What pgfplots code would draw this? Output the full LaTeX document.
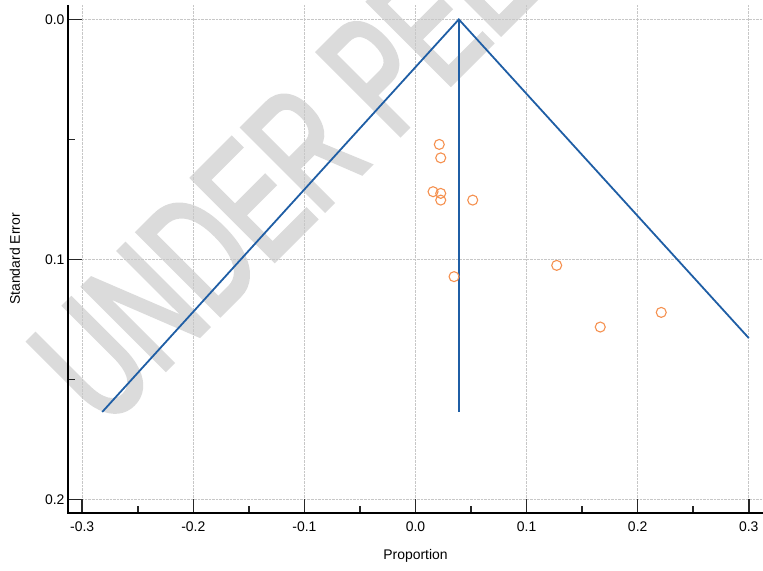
\documentclass[border=0pt]{standalone}
\usepackage{pgfplots}
\pgfplotsset{compat=1.18}
\usetikzlibrary{backgrounds}
\usepackage{fontspec}
\setmainfont{Liberation Sans}
\newfontfamily\wmfont[FakeStretch=0.63, FakeBold=2.5]{Liberation Sans}
\definecolor{fblue}{RGB}{31,94,165}
\definecolor{forange}{RGB}{245,145,80}
\definecolor{wmgray}{RGB}{219,219,219}
\begin{document}
\begin{tikzpicture}
\begin{axis}[
  scale only axis, width=695bp, height=508bp,
  xmin=-0.3128, xmax=0.3128, ymin=-0.006, ymax=0.2057,
  y dir=reverse,
  axis line style={draw=none},
  xtick={-0.3,-0.2,-0.1,0,0.1,0.2,0.3},
  xticklabels={-0.3,-0.2,-0.1,0.0,0.1,0.2,0.3},
  minor xtick={-0.25,-0.15,-0.05,0.05,0.15,0.25},
  ytick={0,0.1,0.2},
  yticklabels={0.0,0.1,0.2},
  minor ytick={0.05,0.15},
  xtick pos=left, ytick pos=left,
  tick align=inside,
  major tick length=14bp, minor tick length=7bp,
  every tick/.style={black!85, line width=1.6bp},
  xmajorgrids, ymajorgrids,
  major grid style={densely dotted, black!22, line width=0.8bp},
  tick label style={font=\fontsize{14}{16}\selectfont},
  /pgf/number format/assume math mode=true,
  xticklabel style={yshift=-5bp},
  label style={font=\fontsize{14}{16}\selectfont},
  xlabel={Proportion}, ylabel={Standard Error},
  xlabel style={at={(axis description cs:0.5,0)}, anchor=center, yshift=-43bp},
  ylabel style={at={(axis description cs:-0.0763,0.5)}, anchor=center},
]
\addplot[fblue, line width=1.8bp] coordinates {(-0.282,0.1636) (0.039,0) (0.300,0.1328)};
\addplot[fblue, line width=1.8bp] coordinates {(0.039,0) (0.039,0.1636)};
\addplot[only marks, mark=o, mark size=5bp, forange, mark options={line width=1.1bp}] coordinates {
(0.0214,0.0521) (0.0227,0.0577) (0.0158,0.0718) (0.0227,0.0725) (0.0227,0.0753)
(0.0515,0.0753) (0.0347,0.1072) (0.1271,0.1025) (0.1663,0.1282) (0.2212,0.1221)};
\end{axis}
\draw[black, line width=2.7bp] (current axis.north west) -- (current axis.south west) -- (current axis.south east);
\begin{scope}[on background layer]
\node[overlay, rotate=45, anchor=base west, inner sep=0pt, text=wmgray,
  font=\wmfont\fontsize{170}{170}\selectfont]
  at ([shift={(37bp,83bp)}]current axis.south west) {UNDER PEER REVIEW};
\end{scope}
\pgfresetboundingbox
\path ([shift={(-68bp,-58bp)}]current axis.south west) rectangle ([shift={(0bp,5bp)}]current axis.north east);
\end{tikzpicture}
\end{document}
